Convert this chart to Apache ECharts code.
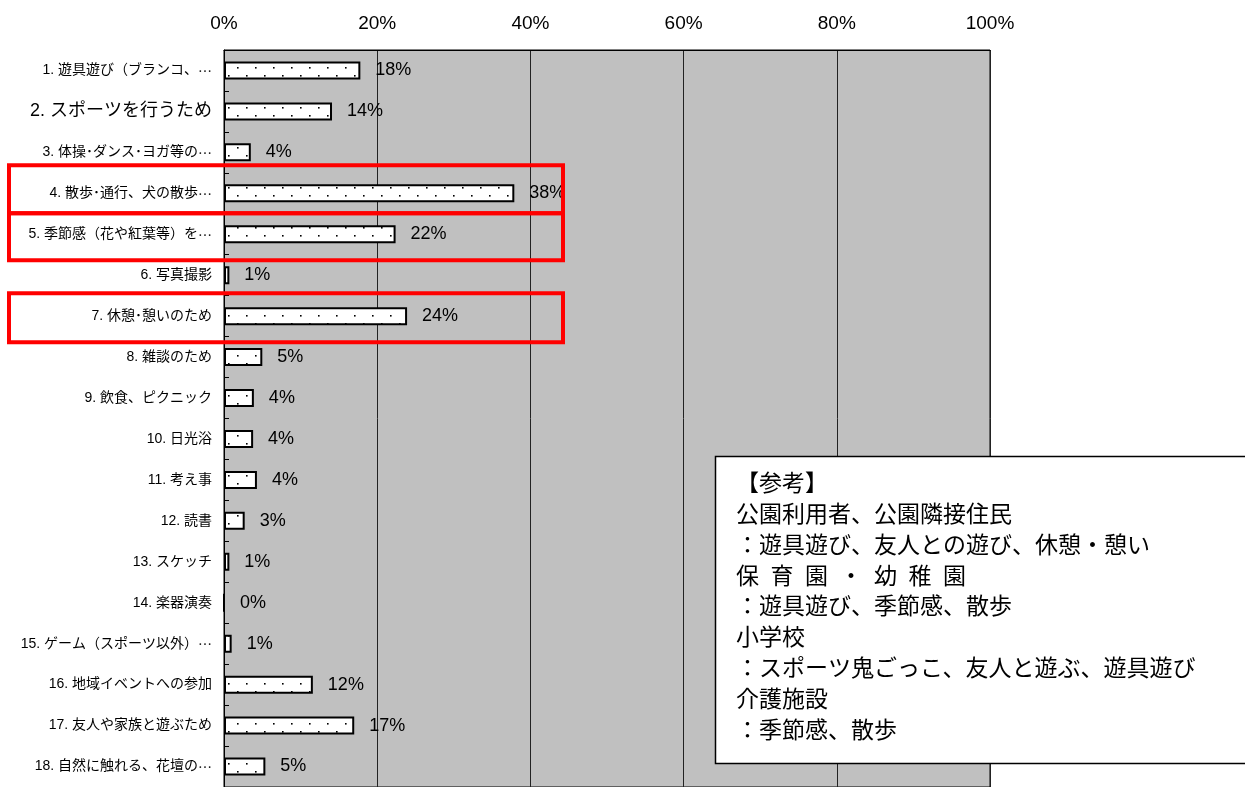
<!DOCTYPE html>
<html><head><meta charset="utf-8">
<script src="https://cdn.jsdelivr.net/npm/echarts@6/dist/echarts.min.js"></script>
<style>html,body{margin:0;padding:0;background:#fff}#c{width:1245px;height:787px}</style>
</head><body><div id="c"></div>
<script>
const categories = [
  '1. 遊具遊び（ブランコ、…',
  '2. スポーツを行うため',
  '3. 体操･ダンス･ヨガ等の…',
  '4. 散歩･通行、犬の散歩…',
  '5. 季節感（花や紅葉等）を…',
  '6. 写真撮影',
  '7. 休憩･憩いのため',
  '8. 雑談のため',
  '9. 飲食、ピクニック',
  '10. 日光浴',
  '11. 考え事',
  '12. 読書',
  '13. スケッチ',
  '14. 楽器演奏',
  '15. ゲーム（スポーツ以外）…',
  '16. 地域イベントへの参加',
  '17. 友人や家族と遊ぶため',
  '18. 自然に触れる、花壇の…'
];
const values = [17.8, 14.1, 3.5, 37.9, 22.4, 0.7, 23.9, 5.0, 3.9, 3.8, 4.3, 2.7, 0.7, 0, 1.0, 11.6, 17.0, 5.4];
const tickValues = [0, 20, 40, 60, 80, 100];
const highlighted = [3, 4, 6];
const noteLines = [
  '【参考】',
  '公園利用者、公園隣接住民',
  '：遊具遊び、友人との遊び、休憩・憩い',
  '保\u2002育\u2002園\u2002・\u2002幼\u2002稚\u2002園',
  '：遊具遊び、季節感、散歩',
  '小学校',
  '：スポーツ鬼ごっこ、友人と遊ぶ、遊具遊び',
  '介護施設',
  '：季節感、散歩'
];

// dotted fill pattern
const pc = document.createElement('canvas');
pc.width = 18; pc.height = 16;
const g = pc.getContext('2d');
g.fillStyle = '#fff'; g.fillRect(0, 0, 18, 16);
g.fillStyle = '#000';
g.fillRect(3, 3, 1.6, 1.6);
g.fillRect(12, 11, 1.6, 1.6);

const chart = echarts.init(document.getElementById('c'));
const jp = '"Liberation Sans", "Noto Sans CJK JP", sans-serif';
const cjk = '"Noto Sans CJK JP", sans-serif';
chart.setOption({
  animation: false,
  grid: { left: 224, right: 255, top: 50, bottom: -2, show: true, backgroundColor: '#C0C0C0', borderColor: '#000', borderWidth: 1 },
  xAxis: {
    type: 'value', position: 'top', min: tickValues[0], max: tickValues[tickValues.length - 1], interval: 20,
    axisLine: { show: true, lineStyle: { color: '#000', width: 1 } },
    axisTick: { show: false },
    axisLabel: { formatter: '{value}%', color: '#000', fontSize: 19, fontFamily: '"Liberation Sans", Arial, sans-serif', margin: 17 },
    splitLine: { show: true, lineStyle: { color: '#222', width: 1 } }
  },
  yAxis: {
    type: 'category', inverse: true, data: categories,
    axisLine: { show: true, lineStyle: { color: '#000', width: 1 } },
    axisTick: { show: true, inside: true, length: 5, lineStyle: { color: '#000' } },
    axisLabel: {
      color: '#000', fontSize: 14, fontFamily: jp, margin: 12,
      formatter: (v, i) => {
        if (i === 1) return '{big|' + v + '}';
        if (v.endsWith('…')) return v.slice(0, -1) + '{e|…}';
        return v;
      },
      rich: {
        big: { fontSize: 18, fontFamily: jp, color: '#000' },
        e: { fontSize: 14, fontFamily: cjk, color: '#000' }
      }
    }
  },
  series: [{
    type: 'bar', data: values, barWidth: 18,
    itemStyle: { color: { image: pc, repeat: 'repeat' }, borderColor: '#000', borderWidth: 2 },
    label: {
      show: true, position: 'right', distance: 15, color: '#000', fontSize: 18,
      fontFamily: '"Liberation Sans", Arial, sans-serif',
      formatter: p => Math.round(p.value) + '%'
    }
  }]
});

const boxOffsets = [[-28, 20], [-21, 26], [-23, 26]];
const graphics = [];
highlighted.forEach((i, k) => {
  const cy = chart.convertToPixel({ yAxisIndex: 0 }, categories[i]);
  const o = boxOffsets[k];
  graphics.push({ type: 'rect', shape: { x: 9, y: cy + o[0], width: 554, height: o[1] - o[0] }, style: { fill: null, stroke: '#FF0000', lineWidth: 4 }, z: 100 });
});
graphics.push({ type: 'rect', shape: { x: 715.5, y: 456.5, width: 540, height: 307 }, style: { fill: '#fff', stroke: '#000', lineWidth: 1.5 }, z: 100 });
graphics.push({ type: 'text', x: 736, y: 467, z: 101, style: { text: noteLines.join('\n'), fontSize: 23, lineHeight: 30.8, fontFamily: cjk, fill: '#000' } });
chart.setOption({ graphic: graphics });
</script></body></html>
